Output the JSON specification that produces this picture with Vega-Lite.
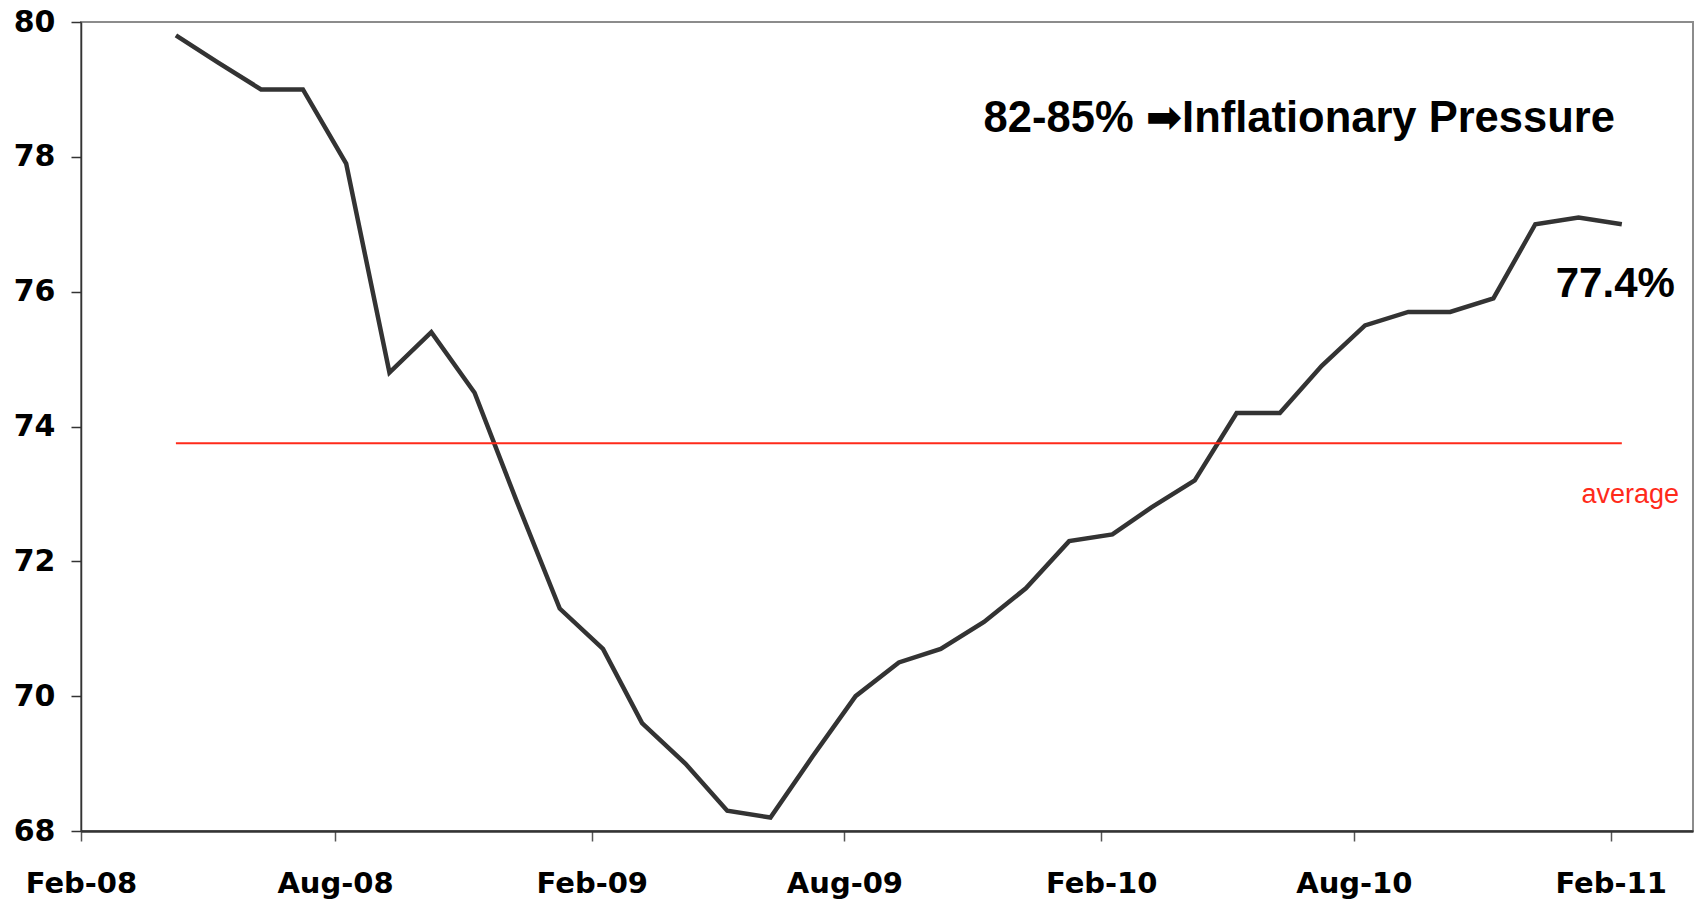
{
  "$schema": "https://vega.github.io/schema/vega-lite/v6.json",
  "width": 1612,
  "height": 809,
  "autosize": "none",
  "padding": {"left": 81, "top": 22, "right": 3, "bottom": 71},
  "background": "white",
  "config": {
    "view": {"stroke": "#8c8c8c", "strokeWidth": 2},
    "axis": {"grid": false}
  },
  "datasets": {
    "series": [
      {"date": "2008/04/09", "value": 79.8},
      {"date": "2008/05/09", "value": 79.4},
      {"date": "2008/06/09", "value": 79.0},
      {"date": "2008/07/09", "value": 79.0},
      {"date": "2008/08/09", "value": 77.9},
      {"date": "2008/09/09", "value": 74.8},
      {"date": "2008/10/09", "value": 75.4},
      {"date": "2008/11/09", "value": 74.5},
      {"date": "2008/12/09", "value": 72.9},
      {"date": "2009/01/09", "value": 71.3},
      {"date": "2009/02/09", "value": 70.7},
      {"date": "2009/03/09", "value": 69.6},
      {"date": "2009/04/09", "value": 69.0},
      {"date": "2009/05/09", "value": 68.3},
      {"date": "2009/06/09", "value": 68.2},
      {"date": "2009/07/09", "value": 69.1},
      {"date": "2009/08/09", "value": 70.0},
      {"date": "2009/09/09", "value": 70.5},
      {"date": "2009/10/09", "value": 70.7},
      {"date": "2009/11/09", "value": 71.1},
      {"date": "2009/12/09", "value": 71.6},
      {"date": "2010/01/09", "value": 72.3},
      {"date": "2010/02/09", "value": 72.4},
      {"date": "2010/03/09", "value": 72.8},
      {"date": "2010/04/09", "value": 73.2},
      {"date": "2010/05/09", "value": 74.2},
      {"date": "2010/06/09", "value": 74.2},
      {"date": "2010/07/09", "value": 74.9},
      {"date": "2010/08/09", "value": 75.5},
      {"date": "2010/09/09", "value": 75.7},
      {"date": "2010/10/09", "value": 75.7},
      {"date": "2010/11/09", "value": 75.9},
      {"date": "2010/12/09", "value": 77.0},
      {"date": "2011/01/09", "value": 77.1},
      {"date": "2011/02/09", "value": 77.0}
    ],
    "avg": [
      {"start": "2008/04/09", "end": "2011/02/09", "value": 73.75}
    ],
    "labels": [
      {"date": "2011/02/04", "value": 78.56, "text": "82-85% ➡Inflationary Pressure", "kind": "title"},
      {"date": "2011/03/19", "value": 76.12, "text": "77.4%", "kind": "last"},
      {"date": "2011/03/22", "value": 72.99, "text": "average", "kind": "avg"}
    ]
  },
  "layer": [
    {
      "data": {"name": "series"},
      "mark": {"type": "line", "color": "#333333", "strokeWidth": 4.5, "strokeJoin": "miter"},
      "encoding": {
        "x": {
          "field": "date",
          "type": "temporal",
          "scale": {"domain": [{"year": 2008, "month": 2, "date": 1}, {"year": 2011, "month": 4, "date": 1}]},
          "axis": {
            "title": null,
            "values": [
              {"year": 2008, "month": 2, "date": 1},
              {"year": 2008, "month": 8, "date": 1},
              {"year": 2009, "month": 2, "date": 1},
              {"year": 2009, "month": 8, "date": 1},
              {"year": 2010, "month": 2, "date": 1},
              {"year": 2010, "month": 8, "date": 1},
              {"year": 2011, "month": 2, "date": 1}
            ],
            "format": "%b-%y",
            "labelFont": "DejaVu Sans",
            "labelFontWeight": "bold",
            "labelFontSize": 29,
            "labelColor": "#000000",
            "labelPadding": 28,
            "labelFlush": false,
            "labelOverlap": false,
            "domainColor": "#333333",
            "domainWidth": 2.5,
            "tickColor": "#555555",
            "tickSize": 10,
            "tickWidth": 1.5
          }
        },
        "y": {
          "field": "value",
          "type": "quantitative",
          "scale": {"domain": [68, 80], "nice": false, "zero": false},
          "axis": {
            "title": null,
            "values": [68, 70, 72, 74, 76, 78, 80],
            "format": "d",
            "labelFont": "DejaVu Sans",
            "labelFontWeight": "bold",
            "labelFontSize": 30,
            "labelColor": "#000000",
            "labelPadding": 16,
            "labelFlush": false,
            "labelOverlap": false,
            "domainColor": "#333333",
            "domainWidth": 1.5,
            "tickColor": "#333333",
            "tickSize": 10,
            "tickWidth": 1.5
          }
        }
      }
    },
    {
      "data": {"name": "avg"},
      "mark": {"type": "rule", "color": "#ff2a1a", "strokeWidth": 2},
      "encoding": {
        "x": {"field": "start", "type": "temporal"},
        "x2": {"field": "end"},
        "y": {"field": "value", "type": "quantitative"}
      }
    },
    {
      "data": {"name": "labels"},
      "transform": [{"filter": "datum.kind === 'title'"}],
      "mark": {"type": "text", "align": "right", "baseline": "middle", "font": "Liberation Sans, DejaVu Sans", "fontWeight": "bold", "fontSize": 43.5, "color": "#000000"},
      "encoding": {
        "x": {"field": "date", "type": "temporal"},
        "y": {"field": "value", "type": "quantitative"},
        "text": {"field": "text"}
      }
    },
    {
      "data": {"name": "labels"},
      "transform": [{"filter": "datum.kind === 'last'"}],
      "mark": {"type": "text", "align": "right", "baseline": "middle", "font": "Liberation Sans, DejaVu Sans", "fontWeight": "bold", "fontSize": 42, "color": "#000000"},
      "encoding": {
        "x": {"field": "date", "type": "temporal"},
        "y": {"field": "value", "type": "quantitative"},
        "text": {"field": "text"}
      }
    },
    {
      "data": {"name": "labels"},
      "transform": [{"filter": "datum.kind === 'avg'"}],
      "mark": {"type": "text", "align": "right", "baseline": "middle", "font": "Liberation Sans", "fontSize": 27, "color": "#ff2a1a"},
      "encoding": {
        "x": {"field": "date", "type": "temporal"},
        "y": {"field": "value", "type": "quantitative"},
        "text": {"field": "text"}
      }
    }
  ]
}
